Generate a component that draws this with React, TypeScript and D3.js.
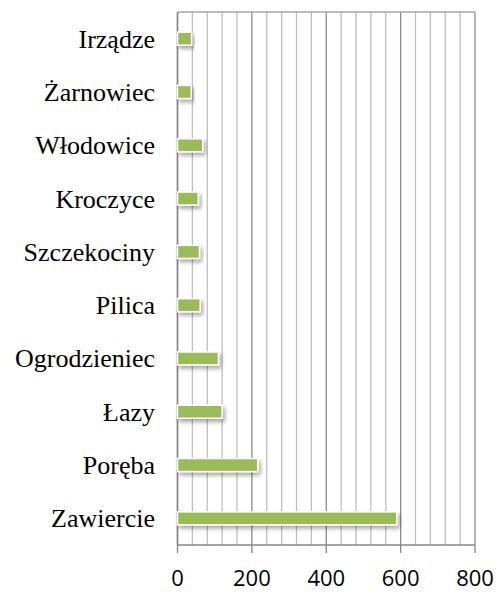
import React from "react";
import * as d3 from "d3";

const categories = ["Irządze", "Żarnowiec", "Włodowice", "Kroczyce", "Szczekociny", "Pilica", "Ogrodzieniec", "Łazy", "Poręba", "Zawiercie"];
const values = [38, 37, 68, 56, 59, 61, 110, 120, 216, 590];
const xTicks = [0, 200, 400, 600, 800];
const minorTicks = d3.range(0, 801, 40);

export default function App() {
  const W = 498, H = 592;
  const left = 177.5, right = 475, top = 12, bottom = 545;
  const x = d3.scaleLinear().domain([0, 800]).range([left, right]);
  const y = d3.scaleBand().domain(categories).range([top, bottom]);
  const barH = 13;
  return (
    <svg width={W} height={H} style={{ position: "absolute", left: 0, top: 0, background: "#fff" }}>
      <defs>
        <filter id="sh" x="-10%" y="-50%" width="130%" height="250%">
          <feDropShadow dx="2" dy="3" stdDeviation="2" floodColor="#000" floodOpacity="0.35" />
        </filter>
      </defs>
      <rect x={0} y={0} width={W} height={H} fill="#fff" />
      {minorTicks.map((t) => (
        <line key={"m" + t} x1={x(t)} x2={x(t)} y1={top} y2={bottom}
          stroke={t % 200 === 0 ? "#8c8c8c" : "#bfbfbf"} strokeWidth={1.3} />
      ))}
      <line x1={left} x2={right} y1={top} y2={top} stroke="#a6a6a6" strokeWidth={1.3} />
      <line x1={left} x2={right} y1={bottom} y2={bottom} stroke="#868686" strokeWidth={1.3} />
      <line x1={left} x2={left} y1={top} y2={bottom} stroke="#868686" strokeWidth={1.5} />
      {xTicks.map((t) => (
        <g key={"t" + t}>
          <line x1={x(t)} x2={x(t)} y1={bottom} y2={bottom + 8} stroke="#868686" strokeWidth={1.3} />
          <text x={x(t)} y={586} textAnchor="middle" fontFamily="'Open Sans', 'Liberation Sans', sans-serif" fontSize={22} fill="#000">{t}</text>
        </g>
      ))}
      {categories.map((c, i) => {
        const cy = (y(c) as number) + y.bandwidth() / 2;
        return (
          <g key={c}>
            <rect x={x(0)} y={cy - barH / 2} width={x(values[i]) - x(0)} height={barH}
              fill="#9bbb59" stroke="#fff" strokeWidth={1.5} filter="url(#sh)" />
            <text x={155} y={cy + 9} textAnchor="end" fontFamily="'Liberation Serif', 'Times New Roman', serif" fontSize={26} fill="#000">{c}</text>
          </g>
        );
      })}
    </svg>
  );
}
